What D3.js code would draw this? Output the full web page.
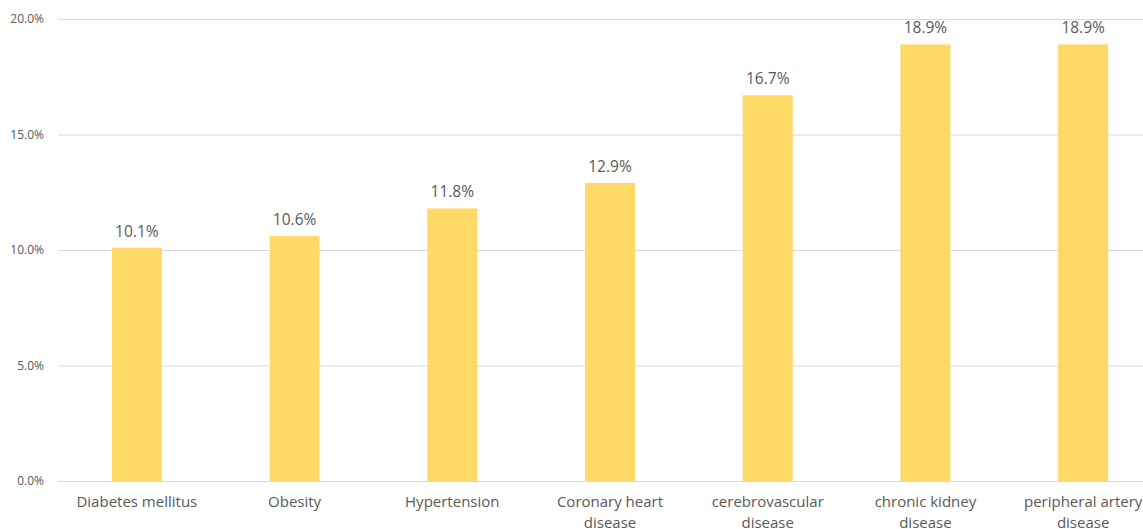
<!DOCTYPE html>
<html>
<head>
<meta charset="utf-8">
<script src="https://cdn.jsdelivr.net/npm/d3@7"></script>
<style>
  html, body { margin: 0; padding: 0; background: #fff; }
  svg { display: block; }
  text { font-family: "Open Sans", "Noto Sans", sans-serif; fill: #595959; }
</style>
</head>
<body>
<svg id="chart" width="1143" height="529"></svg>
<script>
// Prevalence by condition
const categories = [
  ["Diabetes mellitus"],
  ["Obesity"],
  ["Hypertension"],
  ["Coronary heart", "disease"],
  ["cerebrovascular", "disease"],
  ["chronic kidney", "disease"],
  ["peripheral artery", "disease"]
];
const values = [10.1, 10.6, 11.8, 12.9, 16.7, 18.9, 18.9];
const yTicks = [0, 5, 10, 15, 20];

const svg = d3.select("#chart");
const W = 1143, H = 529;
const plotLeft = 58, plotRight = 1162, plotTop = 19, plotBottom = 481;

const x = d3.scaleBand()
  .domain(d3.range(values.length))
  .range([plotLeft, plotRight])
  .paddingInner(0.683)
  .paddingOuter(0.3415);

const y = d3.scaleLinear().domain([0, 20]).range([plotBottom, plotTop]);

// Gridlines
svg.append("g")
  .selectAll("line")
  .data(yTicks)
  .join("line")
  .attr("x1", plotLeft)
  .attr("x2", W)
  .attr("y1", d => y(d) + 0.5)
  .attr("y2", d => y(d) + 0.5)
  .attr("stroke", "#d9d9d9")
  .attr("stroke-width", 1);

// Y axis labels
svg.append("g")
  .selectAll("text")
  .data(yTicks)
  .join("text")
  .attr("x", 44)
  .attr("y", d => y(d))
  .attr("dy", "0.35em")
  .attr("text-anchor", "end")
  .attr("font-size", 12)
  .text(d => d3.format(".1f")(d) + "%");

// Bars
svg.append("g")
  .selectAll("rect")
  .data(values)
  .join("rect")
  .attr("x", (d, i) => x(i))
  .attr("width", x.bandwidth())
  .attr("y", d => y(d))
  .attr("height", d => y(0) - y(d))
  .attr("fill", "#ffd966");

// Value labels
svg.append("g")
  .selectAll("text")
  .data(values)
  .join("text")
  .attr("x", (d, i) => x(i) + x.bandwidth() / 2)
  .attr("y", d => y(d) - 11)
  .attr("text-anchor", "middle")
  .attr("font-size", 15.5)
  .text(d => d3.format(".1f")(d) + "%");

// Category labels
const cat = svg.append("g")
  .selectAll("text")
  .data(categories)
  .join("text")
  .attr("x", (d, i) => x(i) + x.bandwidth() / 2)
  .attr("y", 507)
  .attr("text-anchor", "middle")
  .attr("font-size", 15);
cat.selectAll("tspan")
  .data(d => d)
  .join("tspan")
  .attr("x", function() { return this.parentNode.getAttribute("x"); })
  .attr("dy", (d, i) => i === 0 ? 0 : 21)
  .text(d => d);
</script>
</body>
</html>
